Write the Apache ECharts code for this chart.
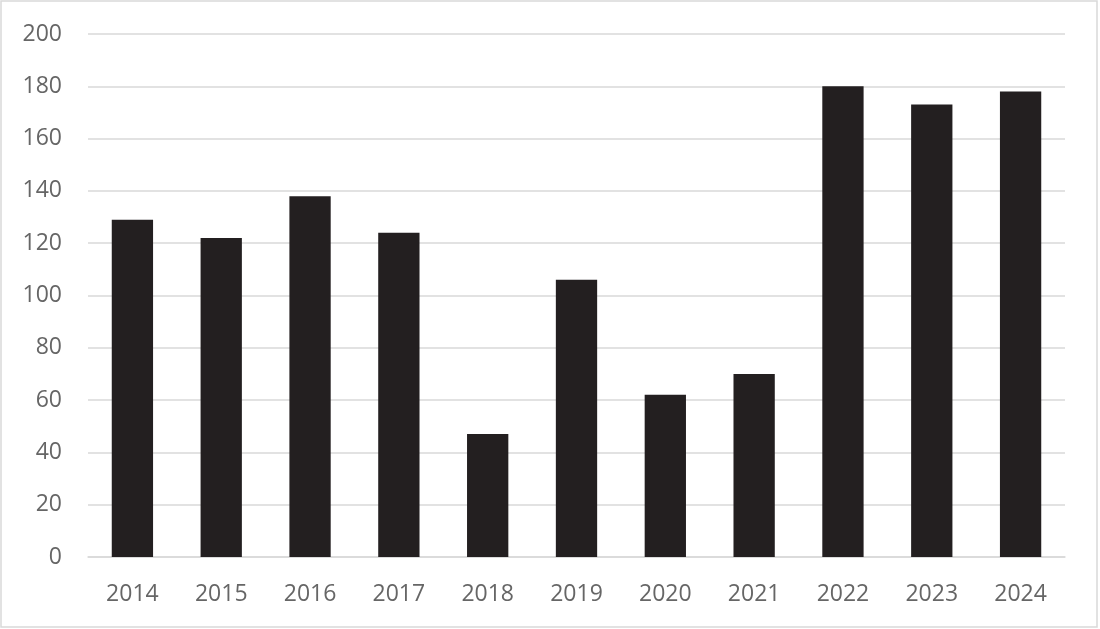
<!DOCTYPE html>
<html>
<head>
<meta charset="utf-8">
<script src="https://cdn.jsdelivr.net/npm/echarts@6/dist/echarts.min.js"></script>
<style>
html,body{margin:0;padding:0;background:#fff;}
#chart{width:1100px;height:629px;}
</style>
</head>
<body>
<div id="chart"></div>
<script>
var years = ['2014','2015','2016','2017','2018','2019','2020','2021','2022','2023','2024'];
var values = [129, 122, 138, 124, 47, 106, 62, 70, 180, 173, 178];
var yTicks = [0, 20, 40, 60, 80, 100, 120, 140, 160, 180, 200];

var chart = echarts.init(document.getElementById('chart'), null, {renderer: 'canvas'});
var font = '"Open Sans", "Liberation Sans", sans-serif';
chart.setOption({
  animation: false,
  backgroundColor: '#fff',
  graphic: [{
    type: 'rect',
    shape: {x: 1, y: 1, width: 1096, height: 626},
    style: {fill: 'none', stroke: '#d9d9d9', lineWidth: 1.5},
    silent: true
  }],
  grid: {left: 88, right: 35, top: 34, bottom: 72},
  xAxis: {
    type: 'category',
    data: years,
    axisLine: {show: true, lineStyle: {color: '#d9d9d9', width: 1.5}},
    axisTick: {show: false},
    axisLabel: {color: '#666666', fontSize: 23, fontFamily: font, margin: 26}
  },
  yAxis: {
    type: 'value',
    min: yTicks[0],
    max: yTicks[yTicks.length - 1],
    interval: 20,
    axisLine: {show: false},
    axisTick: {show: false},
    splitLine: {lineStyle: {color: '#d9d9d9', width: 1.5}},
    axisLabel: {color: '#666666', fontSize: 23, fontFamily: font, margin: 26}
  },
  series: [{
    type: 'bar',
    data: values,
    barWidth: '46.5%',
    itemStyle: {color: '#231f20'}
  }]
});
</script>
</body>
</html>
